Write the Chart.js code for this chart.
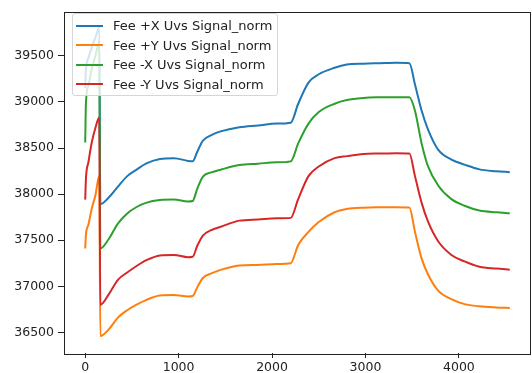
<!DOCTYPE html>
<html>
<head>
<meta charset="utf-8">
<script src="https://cdn.jsdelivr.net/npm/chart.js@4.4.1/dist/chart.umd.min.js"></script>
<style>
  html, body { margin: 0; padding: 0; background: #fff; }
  #wrap { position: relative; width: 532px; height: 373px; }
  #legend {
    position: absolute; left: 72px; top: 13px; width: 206px; height: 83px;
    box-sizing: border-box; padding-top: 2px;
    background: rgba(255,255,255,0.8); border: 1px solid #d6d6d6; border-radius: 3px;
    font-family: 'DejaVu Sans', sans-serif; font-size: 13px; color: #222;
  }
  .item { height: 19.5px; display: flex; align-items: center; white-space: nowrap; }
  .swatch { width: 27px; height: 2px; margin-left: 3px; margin-right: 10px; }
</style>
</head>
<body>
<div id="wrap">
  <canvas id="chart" width="532" height="373"></canvas>
  <div id="legend"></div>
</div>
<script>
// time axis samples
const xs = [0, 8, 35, 70, 110, 150, 162, 250, 350, 450, 550, 650, 800, 950, 1100, 1150, 1200, 1260,
  1350, 1450, 1650, 1850, 2050, 2200, 2280, 2390, 2500, 2670, 2800, 2980, 3150, 3330, 3470, 3530,
  3600, 3670, 3780, 3920, 4060, 4220, 4400, 4545];

const plusX = [39150, 39350, 39480, 39590, 39700, 39810, 37890, 37960, 38080, 38195, 38265, 38330,
  38380, 38390, 38360, 38355, 38460, 38580, 38640, 38680, 38725, 38745, 38765, 38775,
  38980, 39210, 39300, 39370, 39405, 39415, 39420, 39425, 39420, 39190, 38910, 38700,
  38480, 38375, 38320, 38268, 38248, 38238];

const plusY = [37410, 37560, 37670, 37840, 37990, 38200, 36460, 36530, 36660, 36740, 36800, 36850,
  36900, 36905, 36890, 36895, 36990, 37090, 37140, 37178, 37225, 37232, 37242, 37250,
  37448, 37590, 37697, 37803, 37838, 37853, 37857, 37858, 37855, 37590, 37305, 37127,
  36950, 36860, 36806, 36782, 36770, 36764];

const minusX = [38560, 38990, 39180, 39360, 39500, 39650, 37410, 37510, 37680, 37790, 37860, 37905,
  37935, 37940, 37920, 37925, 38060, 38190, 38235, 38265, 38315, 38330, 38345, 38355,
  38550, 38765, 38890, 38980, 39020, 39043, 39050, 39052, 39050, 38905, 38555, 38300,
  38090, 37945, 37874, 37822, 37803, 37793];

const minusY = [37940, 38170, 38350, 38560, 38720, 38830, 36800, 36910, 37070, 37150, 37220, 37280,
  37335, 37340, 37315, 37320, 37440, 37550, 37610, 37645, 37712, 37725, 37737, 37742,
  37945, 38195, 38300, 38390, 38412, 38435, 38440, 38444, 38440, 38195, 37910, 37700,
  37485, 37340, 37270, 37212, 37192, 37180];

const labels = ['Fee +X Uvs Signal_norm', 'Fee +Y Uvs Signal_norm', 'Fee -X Uvs Signal_norm', 'Fee -Y Uvs Signal_norm'];
const colors = ['#1f77b4', '#ff7f0e', '#2ca02c', '#d62728'];
const series = [plusX, plusY, minusX, minusY];

const xTicks = [0, 1000, 2000, 3000, 4000];
const yTicks = [36500, 37000, 37500, 38000, 38500, 39000, 39500];

const font = { family: 'DejaVu Sans', size: 12.5 };

const frame = {
  id: 'frame',
  afterDatasetsDraw(chart) {
    const a = chart.chartArea, c = chart.ctx;
    c.save();
    c.strokeStyle = '#222';
    c.lineWidth = 1;
    c.strokeRect(Math.round(a.left) + 0.5, Math.round(a.top) + 0.5, Math.round(a.right - a.left) - 1, Math.round(a.bottom - a.top));
    c.restore();
  }
};

new Chart(document.getElementById('chart'), {
  type: 'line',
  data: {
    datasets: series.map((s, i) => ({
      label: labels[i],
      data: s.map((v, j) => ({ x: xs[j], y: v })),
      borderColor: colors[i],
      borderWidth: 2,
      pointRadius: 0,
      cubicInterpolationMode: 'monotone',
      fill: false,
      order: 4 - i
    }))
  },
  options: {
    responsive: false,
    animation: false,
    layout: { padding: { top: 6, right: 1, left: 0, bottom: 0 } },
    plugins: { legend: { display: false }, tooltip: { enabled: false } },
    scales: {
      x: {
        type: 'linear', min: -227, max: 4772,
        afterBuildTicks: s => { s.ticks = xTicks.map(v => ({ value: v })); },
        afterFit: s => { s.height = 20; },
        grid: { display: true, drawOnChartArea: false, drawTicks: true, tickLength: 5, color: '#222' },
        border: { display: false },
        ticks: { color: '#222', font, padding: 2, maxRotation: 0, callback: v => String(v) }
      },
      y: {
        type: 'linear', min: 36276, max: 39981,
        afterBuildTicks: s => { s.ticks = yTicks.map(v => ({ value: v })); },
        afterFit: s => { s.width = 64; },
        grid: { display: true, drawOnChartArea: false, drawTicks: true, tickLength: 6, color: '#222' },
        border: { display: false },
        ticks: { color: '#222', font, padding: 4, callback: v => String(v) }
      }
    }
  },
  plugins: [frame]
});

const legend = document.getElementById('legend');
labels.forEach((t, i) => {
  const row = document.createElement('div');
  row.className = 'item';
  row.innerHTML = `<span class="swatch" style="background:${colors[i]}"></span><span>${t}</span>`;
  legend.appendChild(row);
});
</script>
</body>
</html>
